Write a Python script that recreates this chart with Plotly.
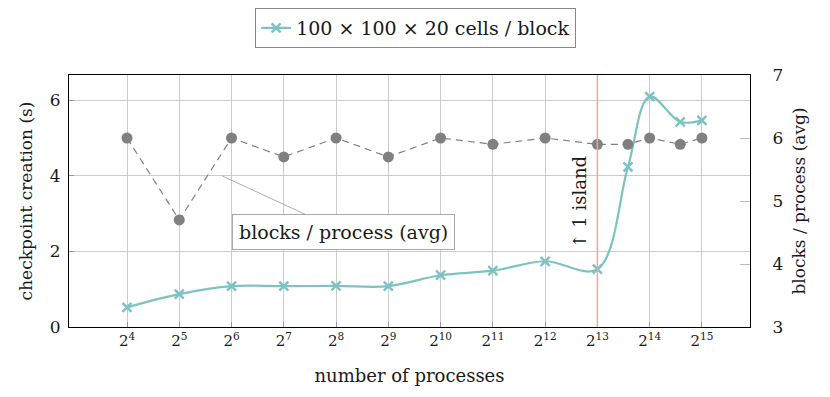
import math
import plotly.graph_objects as go

# data
processes = [2**4, 2**5, 2**6, 2**7, 2**8, 2**9, 2**10, 2**11, 2**12, 2**13, 12288, 2**14, 24576, 2**15]
checkpoint_time = [0.52, 0.87, 1.08, 1.08, 1.09, 1.08, 1.37, 1.49, 1.74, 1.53, 4.24, 6.10, 5.43, 5.47]
blocks_per_process = [6.0, 4.7, 6.0, 5.7, 6.0, 5.7, 6.0, 5.9, 6.0, 5.9, 5.9, 6.0, 5.9, 6.0]
tick_exponents = list(range(4, 16))
tick_values = [2**k for k in tick_exponents]
tick_labels = [f"2<sup>{k}</sup>" for k in tick_exponents]
island_x = 2**13
series_name = "100 × 100 × 20 cells / block"

FONT = "DejaVu Serif"
TEAL = "#7cc3c1"
GRAY = "#808080"
TXT = "#1a1a1a"

fig = go.Figure()
fig.add_trace(go.Scatter(
    x=processes, y=blocks_per_process, yaxis="y2", mode="lines+markers",
    line=dict(color=GRAY, dash="7px,5px", width=1.2),
    marker=dict(symbol="circle", size=11, color=GRAY),
    showlegend=False,
))
fig.add_trace(go.Scatter(
    x=processes, y=checkpoint_time, mode="lines+markers", name=series_name,
    line=dict(color=TEAL, width=2.2, shape="spline", smoothing=1.0),
    marker=dict(symbol="x-thin", size=9, color=TEAL, line=dict(color=TEAL, width=2.5)),
))

fig.add_shape(type="line", x0=island_x, x1=island_x, xref="x", y0=0, y1=1, yref="paper",
              line=dict(color="#ffa0a0", width=1.5))

fig.add_annotation(x=math.log10(island_x), y=3.32, xref="x", yref="y",
                   text="↑ 1 island", textangle=-90, showarrow=False, xanchor="right",
                   yanchor="middle", xshift=-5, font=dict(family=FONT, size=18, color=TXT))

fig.add_annotation(x=math.log10(2**5.82), y=4.0, xref="x", yref="y",
                   text="blocks / process (avg)", showarrow=True, arrowhead=0,
                   arrowwidth=0.8, arrowcolor="#999", ax=121, ay=56,
                   bgcolor="white", bordercolor="#aaa", borderwidth=1, borderpad=6,
                   font=dict(family=FONT, size=19, color=TXT))

fig.update_layout(
    width=830, height=397,
    margin=dict(l=61, r=88, t=67, b=78, autoexpand=False),
    paper_bgcolor="white", plot_bgcolor="white",
    font=dict(family=FONT, size=17, color=TXT),
    xaxis=dict(type="log", range=[math.log10(2**2.89), math.log10(2**15.92)],
               tickvals=tick_values, ticktext=tick_labels, tickfont=dict(size=15),
               showgrid=True, gridcolor="#cccccc", gridwidth=1, automargin=False,
               ticks="inside", ticklen=5, tickcolor="#999",
               showline=True, linecolor="black", linewidth=1.2, mirror=True,
               title=dict(text="number of processes", font=dict(size=18), standoff=20),
               zeroline=False),
    yaxis=dict(range=[0, 6.67], tickvals=[0, 2, 4, 6], showgrid=True, gridcolor="#cccccc",
               ticks="inside", ticklen=5, tickcolor="#999", zeroline=False, automargin=False,
               showline=True, linecolor="black", linewidth=1.2, mirror=True,
               tickfont=dict(size=17), ticklabelstandoff=4,
               title=dict(text="checkpoint creation (s)", font=dict(size=17), standoff=12)),
    yaxis2=dict(range=[3, 7], tickvals=[3, 4, 5, 6, 7], overlaying="y", side="right",
                showgrid=False, ticks="inside", ticklen=10, tickcolor="#bbb", zeroline=False,
                showline=True, linecolor="black", linewidth=1.2, automargin=False,
                tickfont=dict(size=17), ticklabelstandoff=18,
                title=dict(text="blocks / process (avg)", font=dict(size=17), standoff=10)),
    legend=dict(x=0.509, y=1.266, xanchor="center", yanchor="top", orientation="h",
                bordercolor="#888", borderwidth=1, bgcolor="white",
                font=dict(family=FONT, size=19)),
)

fig.write_html("out.html")
